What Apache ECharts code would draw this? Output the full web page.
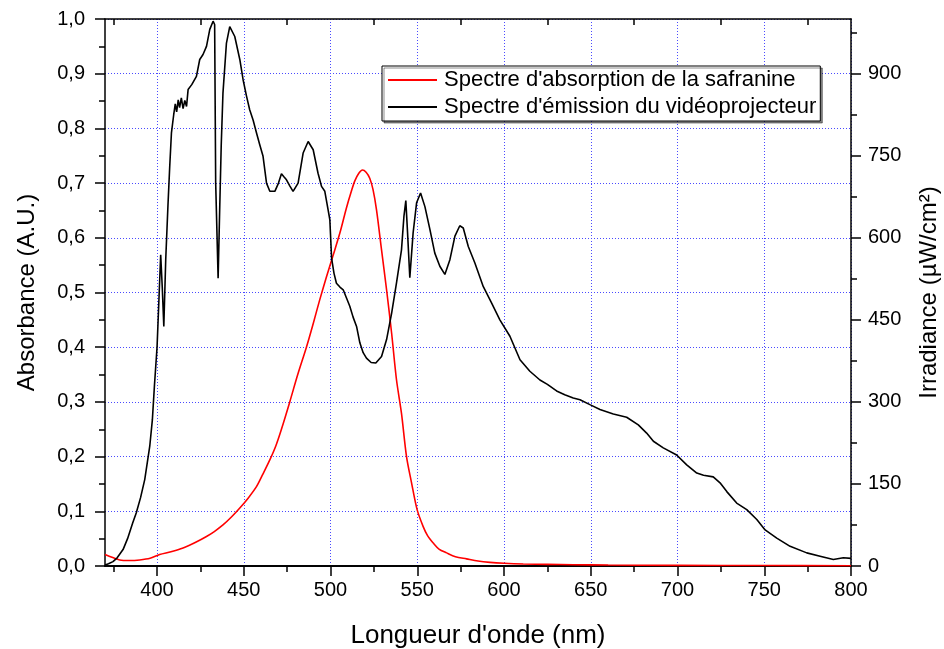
<!DOCTYPE html>
<html>
<head>
<meta charset="utf-8">
<script src="https://cdn.jsdelivr.net/npm/echarts@6/dist/echarts.min.js"></script>
<style>
  html, body { margin: 0; padding: 0; background: #fff; }
  #chart { width: 944px; height: 649px; }
</style>
</head>
<body>
<div id="chart"></div>
<script>
// Emission spectrum of the video projector (irradiance, µW/cm²)
const emissionNm = [370, 372, 374.6, 377, 380.4, 383, 386, 388, 390.5, 392.9, 395.8, 397.3, 398.5, 400, 401, 402.1, 403, 403.9, 405, 406.3,
  407.3, 408.3, 409.6, 410.5, 411.3, 412.2, 413, 414, 415, 416, 417, 417.9, 420, 422.7, 424.6, 426.5, 428.5, 430.4, 432.3, 433.2,
  433.8, 435.2, 436.1, 437, 438, 440, 441.9, 442.9, 444.8, 447.7, 449.6, 451.5, 453.4, 455.4, 457.3, 459.2, 461.1, 463.1, 465, 467.9,
  470, 471.7, 473, 474.6, 476.5, 478.4, 481.3, 484.2, 487.1, 490, 492.8, 494.8, 496.7, 498.6, 499.6, 500.6, 502, 503.4, 505.4, 507.3,
  509.2, 511.1, 513, 515, 516.9, 518.8, 520.7, 523.4, 526.1, 529.4, 532.3, 535.2, 538, 540.9, 542.3, 543.4, 544.4, 545.7, 547.6, 549.6,
  551.9, 554.4, 557.3, 560.1, 563, 565.9, 568.8, 571.7, 574.5, 576.5, 579.4, 583.2, 588, 592.8, 597.6, 603.4, 609.2, 614.9, 620.7, 625,
  630.3, 635, 639.9, 643.8, 649.5, 655.3, 663, 670.7, 677.4, 682.2, 686.1, 691.8, 699.5, 705.3, 711.1, 715, 720.6, 724.5, 728.4, 734.1,
  739.9, 745.7, 750.5, 757.2, 764.9, 774.5, 782.2, 789.8, 795.6, 800];
const emissionIrr = [2, 4, 8, 15, 30, 50, 79, 97, 125, 158, 219, 267, 330, 400, 480, 569, 510, 438, 560, 660,
  730, 792, 825, 845, 830, 852, 838, 856, 836, 851, 840, 871, 880, 895, 926, 935, 950, 981, 996, 990,
  700, 526, 651, 770, 865, 956, 986, 983, 968, 926, 889, 860, 834, 815, 792, 770, 749, 700, 685, 685,
  700, 717, 712, 706, 695, 685, 700, 755, 776, 761, 718, 694, 685, 651, 633, 563, 535, 517, 510, 505,
  490, 475, 455, 438, 408, 390, 380, 372, 371, 383, 414, 462, 517, 578, 639, 668, 609, 527, 609, 664,
  682, 657, 615, 572, 548, 533, 560, 603, 622, 618, 584, 554, 511, 481, 450, 420, 377, 356, 340, 332,
  320, 313, 307, 304, 295, 286, 278, 272, 258, 243, 228, 216, 203, 185, 170, 166, 163, 152, 136, 115,
  103, 85, 66, 51, 36, 24, 18, 12, 15, 14];

// Absorption spectrum of safranine (absorbance, A.U.)
const absorptionNm = [370, 374, 378.5, 384, 390, 396, 401.5, 408, 415, 422, 428.5, 433, 438, 443, 447.7, 452.5, 457.3, 461, 465, 468.5,
  471.7, 476.5, 481.1, 486.1, 490, 493.8, 497.5, 501.5, 505.5, 509.2, 512, 514, 516.3, 518.4, 520.5, 522.6, 524.5, 526.5, 529.4, 532.3,
  535.2, 538, 540.9, 543.8, 546.7, 549.9, 553.4, 556, 559.2, 562.5, 566.9, 572, 578.4, 585, 591.9, 600, 611.1, 625, 639.9, 660,
  700, 750, 800];
const absorptionVal = [0.021, 0.016, 0.011, 0.010, 0.011, 0.014, 0.021, 0.026, 0.033, 0.043, 0.054, 0.063, 0.075, 0.09, 0.106, 0.124, 0.145, 0.168, 0.194, 0.22,
  0.25, 0.30, 0.35, 0.40, 0.443, 0.487, 0.527, 0.568, 0.61, 0.655, 0.685, 0.704, 0.718, 0.724, 0.72, 0.709, 0.688, 0.651, 0.578, 0.505,
  0.426, 0.341, 0.279, 0.2, 0.152, 0.103, 0.072, 0.055, 0.042, 0.031, 0.024, 0.017, 0.013, 0.009, 0.0066, 0.005, 0.0037, 0.003, 0.0024, 0.0018,
  0.0012, 0.0008, 0.0005];

// Axis ticks
const xMajorTicks = [400, 450, 500, 550, 600, 650, 700, 750, 800];
const xMinorTicks = [375, 425, 475, 525, 575, 625, 675, 725, 775];
const rightMajorTicks = [0, 150, 300, 450, 600, 750, 900];
const rightMinorTicks = [75, 225, 375, 525, 675, 825, 975];

const seriesNames = ["Spectre d'absorption de la safranine", "Spectre d'émission du vidéoprojecteur"];

const FONT = "'Liberation Sans', Arial, sans-serif";
const gridLine = { show: true, lineStyle: { color: '#4a4aff', width: 1, type: [1, 2] } };
const blackLine = { show: true, lineStyle: { color: '#000', width: 1.5 } };

const absorptionData = absorptionNm.map((x, i) => [x, absorptionVal[i]]);
const emissionData = emissionNm.map((x, i) => [x, emissionIrr[i]]);

function xAxisDef(position, ticks, len, inside, withLabels) {
  return {
    type: 'value', position: position, min: 370, max: 800, gridIndex: 0,
    axisLine: blackLine,
    axisTick: { show: true, customValues: ticks, length: len, inside: inside, lineStyle: { color: '#000', width: 1.5 } },
    axisLabel: withLabels
      ? { show: true, customValues: ticks, fontSize: 20, color: '#000', fontFamily: FONT, margin: 14 }
      : { show: false },
    splitLine: withLabels ? gridLine : { show: false }
  };
}

const chart = echarts.init(document.getElementById('chart'), null, { renderer: 'canvas' });
chart.setOption({
  animation: false,
  backgroundColor: '#fff',
  grid: { left: 105, right: 93, top: 19, bottom: 83, outerBoundsMode: 'none', containLabel: false },
  legend: {
    orient: 'vertical',
    left: 382, top: 66,
    data: seriesNames,
    icon: 'rect',
    backgroundColor: '#fff',
    borderColor: '#000',
    borderWidth: 1,
    shadowColor: 'rgba(0,0,0,0.45)',
    shadowOffsetX: 2, shadowOffsetY: 2, shadowBlur: 0,
    padding: [3, 4, 3, 6],
    itemGap: 5,
    itemWidth: 49,
    itemHeight: 2,
    textStyle: { fontSize: 22, color: '#000', fontFamily: FONT, padding: [0, 0, 0, 2] }
  },
  xAxis: [
    Object.assign(xAxisDef('bottom', xMajorTicks, 10, false, true), {
      name: "Longueur d'onde (nm)", nameLocation: 'middle', nameGap: 57,
      nameTextStyle: { fontSize: 26, color: '#000', fontFamily: FONT }
    }),
    xAxisDef('bottom', xMinorTicks, 6, false, false),
    xAxisDef('top', xMajorTicks, 10, true, false),
    xAxisDef('top', xMinorTicks, 6, true, false)
  ],
  yAxis: [
    {
      type: 'value', position: 'left', min: 0, max: 1, interval: 0.1,
      axisLine: blackLine,
      axisTick: { show: true, length: 10, lineStyle: { color: '#000', width: 1.5 } },
      minorTick: { show: true, splitNumber: 2, length: 6, lineStyle: { color: '#000', width: 1.5 } },
      axisLabel: { fontSize: 20, color: '#000', fontFamily: FONT, margin: 20,
        formatter: v => v.toFixed(1).replace('.', ',') },
      splitLine: gridLine,
      name: 'Absorbance (A.U.)', nameLocation: 'middle', nameGap: 66, nameRotate: 90,
      nameTextStyle: { fontSize: 24, color: '#000', fontFamily: FONT }
    },
    {
      type: 'value', position: 'right', min: 0, max: 1000,
      axisLine: blackLine,
      axisTick: { show: true, customValues: rightMajorTicks, length: 10, lineStyle: { color: '#000', width: 1.5 } },
      axisLabel: { show: true, customValues: rightMajorTicks, fontSize: 20, color: '#000', fontFamily: FONT, margin: 17 },
      splitLine: { show: false },
      name: 'Irradiance (µW/cm²)', nameLocation: 'middle', nameGap: 66, nameRotate: 90,
      nameTextStyle: { fontSize: 24, color: '#000', fontFamily: FONT }
    },
    {
      type: 'value', position: 'right', min: 0, max: 1000,
      axisLine: { show: false },
      axisTick: { show: true, customValues: rightMinorTicks, length: 6, lineStyle: { color: '#000', width: 1.5 } },
      axisLabel: { show: false },
      splitLine: { show: false }
    }
  ],
  series: [
    {
      name: seriesNames[0], type: 'line', xAxisIndex: 0, yAxisIndex: 0,
      data: absorptionData, symbol: 'none', smooth: 0.3,
      lineStyle: { color: '#ff0000', width: 1.6 }, itemStyle: { color: '#ff0000' }, z: 3
    },
    {
      name: seriesNames[1], type: 'line', xAxisIndex: 0, yAxisIndex: 1,
      data: emissionData, symbol: 'none',
      lineStyle: { color: '#000', width: 1.6 }, itemStyle: { color: '#000' }, z: 4
    }
  ]
});
</script>
</body>
</html>
